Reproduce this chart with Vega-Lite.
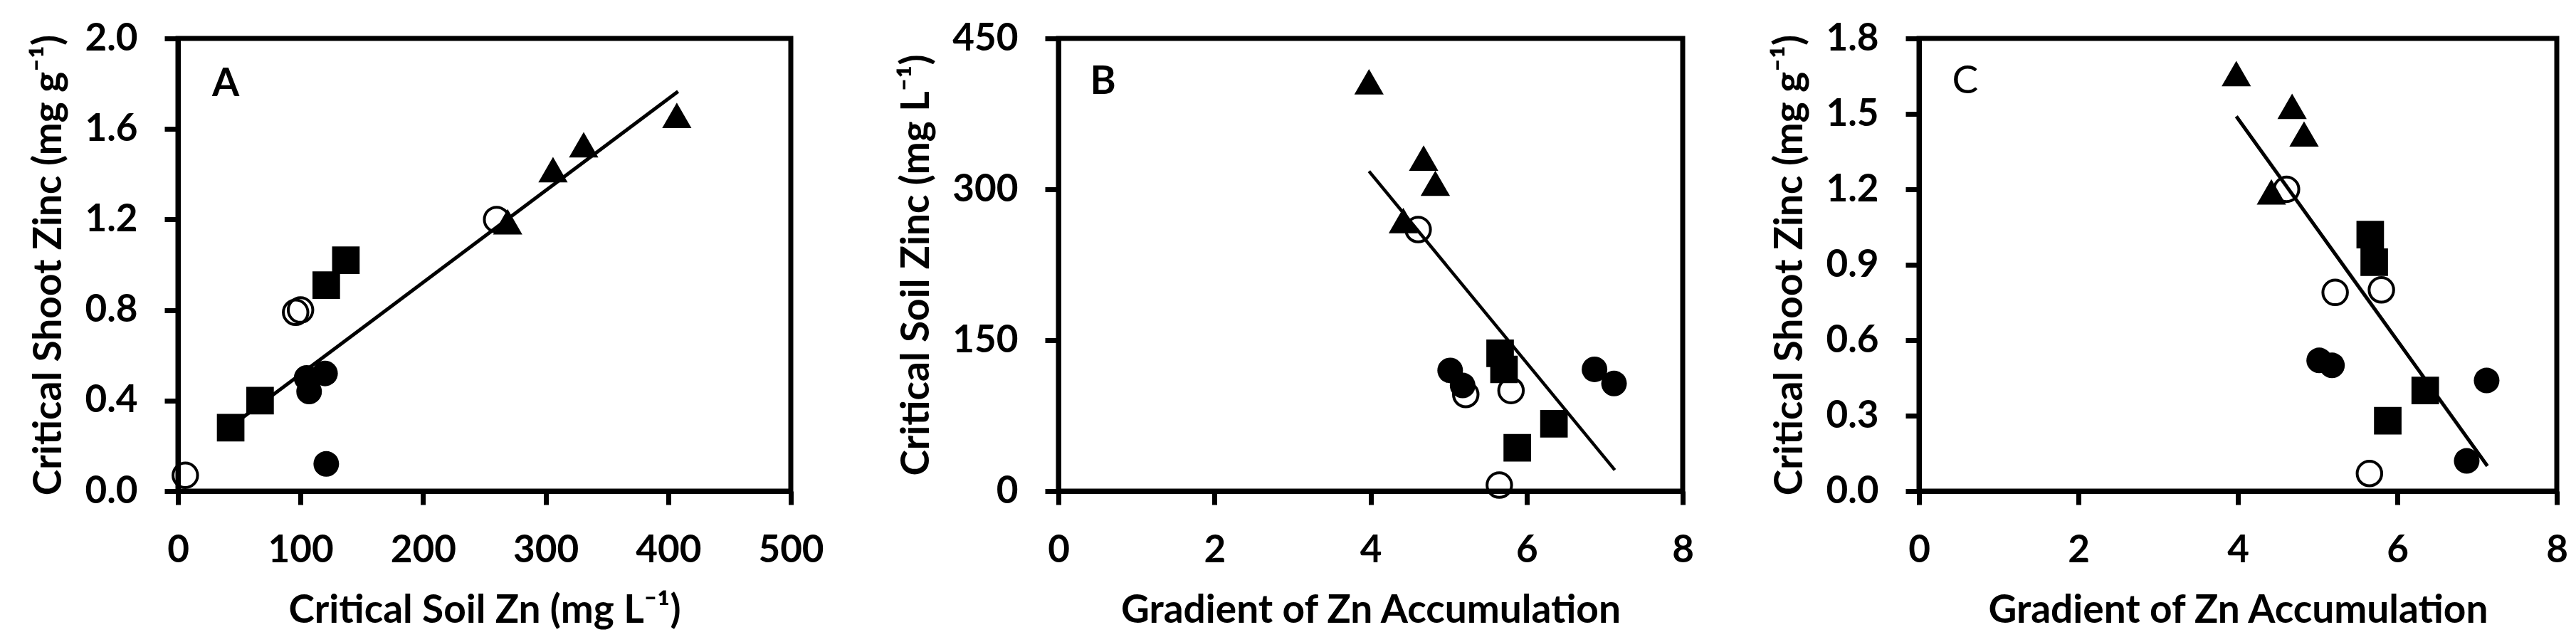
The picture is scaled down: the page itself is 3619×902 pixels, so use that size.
{
  "$schema": "https://vega.github.io/schema/vega-lite/v6.json",
  "background": "white",
  "padding": {"left": 38, "top": 24, "right": 5, "bottom": 5},
  "config": {
    "font": "Lato",
    "view": {"stroke": "black", "strokeWidth": 7},
    "axis": {
      "grid": false, "domainColor": "black", "domainWidth": 7,
      "tickColor": "black", "tickWidth": 7, "tickSize": 19,
      "labelFont": "Lato", "labelFontSize": 53, "labelFontWeight": "bold", "labelColor": "black",
      "titleFont": "Lato", "titleFontSize": 55, "titleFontWeight": "bold", "titleColor": "black",
      "labelFlush": false, "labelOverlap": false
    },
    "axisX": {"labelPadding": 38, "titlePadding": 31},
    "axisY": {"labelPadding": 38, "titlePadding": 21}
  },
  "datasets": {
    "pts": [
      {"grp": "tri", "soil": 407, "shoot": 1.66, "grad": 3.98},
      {"grp": "tri", "soil": 331, "shoot": 1.53, "grad": 4.68},
      {"grp": "tri", "soil": 306, "shoot": 1.42, "grad": 4.83},
      {"grp": "tri", "soil": 269, "shoot": 1.19, "grad": 4.42},
      {"grp": "sq", "soil": 137, "shoot": 1.02, "grad": 5.66},
      {"grp": "sq", "soil": 121, "shoot": 0.91, "grad": 5.71},
      {"grp": "sq", "soil": 67, "shoot": 0.40, "grad": 6.35},
      {"grp": "sq", "soil": 43, "shoot": 0.28, "grad": 5.88},
      {"grp": "fc", "soil": 120, "shoot": 0.52, "grad": 5.02},
      {"grp": "fc", "soil": 105, "shoot": 0.50, "grad": 5.18},
      {"grp": "fc", "soil": 107, "shoot": 0.44, "grad": 7.12},
      {"grp": "fc", "soil": 121, "shoot": 0.12, "grad": 6.87},
      {"grp": "oc", "soil": 6, "shoot": 0.07, "grad": 5.65},
      {"grp": "oc", "soil": 96, "shoot": 0.79, "grad": 5.22},
      {"grp": "oc", "soil": 100, "shoot": 0.80, "grad": 5.8},
      {"grp": "oc", "soil": 260, "shoot": 1.20, "grad": 4.61}
    ],
    "lines": [
      {"panel": "A", "soil": 43, "shoot": 0.285},
      {"panel": "A", "soil": 408, "shoot": 1.766},
      {"panel": "B", "grad": 3.98, "soil": 318},
      {"panel": "B", "grad": 7.13, "soil": 21},
      {"panel": "C", "grad": 3.98, "shoot": 1.49},
      {"panel": "C", "grad": 7.13, "shoot": 0.10}
    ],
    "labels": [
      {"panel": "A", "label": "A", "soil": 39, "shoot": 1.80},
      {"panel": "B", "label": "B", "grad": 0.57, "soil": 406.6},
      {"panel": "C", "label": "C", "grad": 0.58, "shoot": 1.63}
    ]
  },
  "bounds": "flush",
  "spacing": 376,
  "hconcat": [
    {
      "width": 861, "height": 636,
      "encoding": {
        "x": {"field": "soil", "type": "quantitative", "scale": {"domain": [0, 500], "nice": false},
              "axis": {"values": [0, 100, 200, 300, 400, 500], "title": "Critical Soil Zn (mg L⁻¹)"}},
        "y": {"field": "shoot", "type": "quantitative", "scale": {"domain": [0, 2], "nice": false},
              "axis": {"values": [0, 0.4, 0.8, 1.2, 1.6, 2.0], "format": ".1f", "title": "Critical Shoot Zinc (mg g⁻¹)"}}
      },
      "layer": [
        {"data": {"name": "lines"}, "transform": [{"filter": "datum.panel === 'A'"}],
         "mark": {"type": "line", "color": "black", "strokeWidth": 5}},
        {"data": {"name": "pts"}, "transform": [{"filter": "datum.grp !== 'oc'"}],
         "mark": {"type": "point", "filled": true, "color": "black", "opacity": 1},
         "encoding": {
           "shape": {"field": "grp", "type": "nominal", "scale": {"domain": ["tri", "sq", "fc"], "range": ["triangle-up", "square", "circle"]}, "legend": null},
           "size": {"field": "grp", "type": "nominal", "scale": {"domain": ["tri", "sq", "fc"], "range": [1700, 1296, 1225]}, "legend": null}
         }},
        {"data": {"name": "pts"}, "transform": [{"filter": "datum.grp === 'oc'"}],
         "mark": {"type": "point", "shape": "circle", "filled": false, "color": "black", "strokeWidth": 4, "size": 1190, "opacity": 1}},
        {"data": {"name": "labels"}, "transform": [{"filter": "datum.panel === 'A'"}],
         "mark": {"type": "text", "font": "Lato", "fontSize": 55, "fontWeight": "bold", "align": "center", "baseline": "middle", "color": "black"},
         "encoding": {"text": {"field": "label"}}}
      ]
    },
    {
      "bounds": "flush",
      "spacing": 332,
      "hconcat": [
        {
          "width": 877, "height": 636,
          "encoding": {
            "x": {"field": "grad", "type": "quantitative", "scale": {"domain": [0, 8], "nice": false},
                  "axis": {"values": [0, 2, 4, 6, 8], "title": "Gradient of Zn Accumulation"}},
            "y": {"field": "soil", "type": "quantitative", "scale": {"domain": [0, 450], "nice": false},
                  "axis": {"values": [0, 150, 300, 450], "title": "Critical Soil Zinc (mg L⁻¹)"}}
          },
          "layer": [
            {"data": {"name": "lines"}, "transform": [{"filter": "datum.panel === 'B'"}],
             "mark": {"type": "line", "color": "black", "strokeWidth": 4.5}},
            {"data": {"name": "pts"}, "transform": [{"filter": "datum.grp !== 'oc'"}],
             "mark": {"type": "point", "filled": true, "color": "black", "opacity": 1},
             "encoding": {
               "shape": {"field": "grp", "type": "nominal", "scale": {"domain": ["tri", "sq", "fc"], "range": ["triangle-up", "square", "circle"]}, "legend": null},
               "size": {"field": "grp", "type": "nominal", "scale": {"domain": ["tri", "sq", "fc"], "range": [1700, 1296, 1225]}, "legend": null}
             }},
            {"data": {"name": "pts"}, "transform": [{"filter": "datum.grp === 'oc'"}],
             "mark": {"type": "point", "shape": "circle", "filled": false, "color": "black", "strokeWidth": 4, "size": 1190, "opacity": 1}},
            {"data": {"name": "labels"}, "transform": [{"filter": "datum.panel === 'B'"}],
             "mark": {"type": "text", "font": "Lato", "fontSize": 55, "fontWeight": "bold", "align": "center", "baseline": "middle", "color": "black"},
             "encoding": {"text": {"field": "label"}}}
          ]
        },
        {
          "width": 896, "height": 636,
          "encoding": {
            "x": {"field": "grad", "type": "quantitative", "scale": {"domain": [0, 8], "nice": false},
                  "axis": {"values": [0, 2, 4, 6, 8], "title": "Gradient of Zn Accumulation"}},
            "y": {"field": "shoot", "type": "quantitative", "scale": {"domain": [0, 1.8], "nice": false},
                  "axis": {"values": [0, 0.3, 0.6, 0.9, 1.2, 1.5, 1.8], "format": ".1f", "title": "Critical Shoot Zinc (mg g⁻¹)"}}
          },
          "layer": [
            {"data": {"name": "lines"}, "transform": [{"filter": "datum.panel === 'C'"}],
             "mark": {"type": "line", "color": "black", "strokeWidth": 5}},
            {"data": {"name": "pts"}, "transform": [{"filter": "datum.grp !== 'oc'"}],
             "mark": {"type": "point", "filled": true, "color": "black", "opacity": 1},
             "encoding": {
               "shape": {"field": "grp", "type": "nominal", "scale": {"domain": ["tri", "sq", "fc"], "range": ["triangle-up", "square", "circle"]}, "legend": null},
               "size": {"field": "grp", "type": "nominal", "scale": {"domain": ["tri", "sq", "fc"], "range": [1700, 1296, 1225]}, "legend": null}
             }},
            {"data": {"name": "pts"}, "transform": [{"filter": "datum.grp === 'oc'"}],
             "mark": {"type": "point", "shape": "circle", "filled": false, "color": "black", "strokeWidth": 4, "size": 1190, "opacity": 1}},
            {"data": {"name": "labels"}, "transform": [{"filter": "datum.panel === 'C'"}],
             "mark": {"type": "text", "font": "Lato", "fontSize": 55, "fontWeight": "normal", "align": "center", "baseline": "middle", "color": "black"},
             "encoding": {"text": {"field": "label"}}}
          ]
        }
      ]
    }
  ]
}
